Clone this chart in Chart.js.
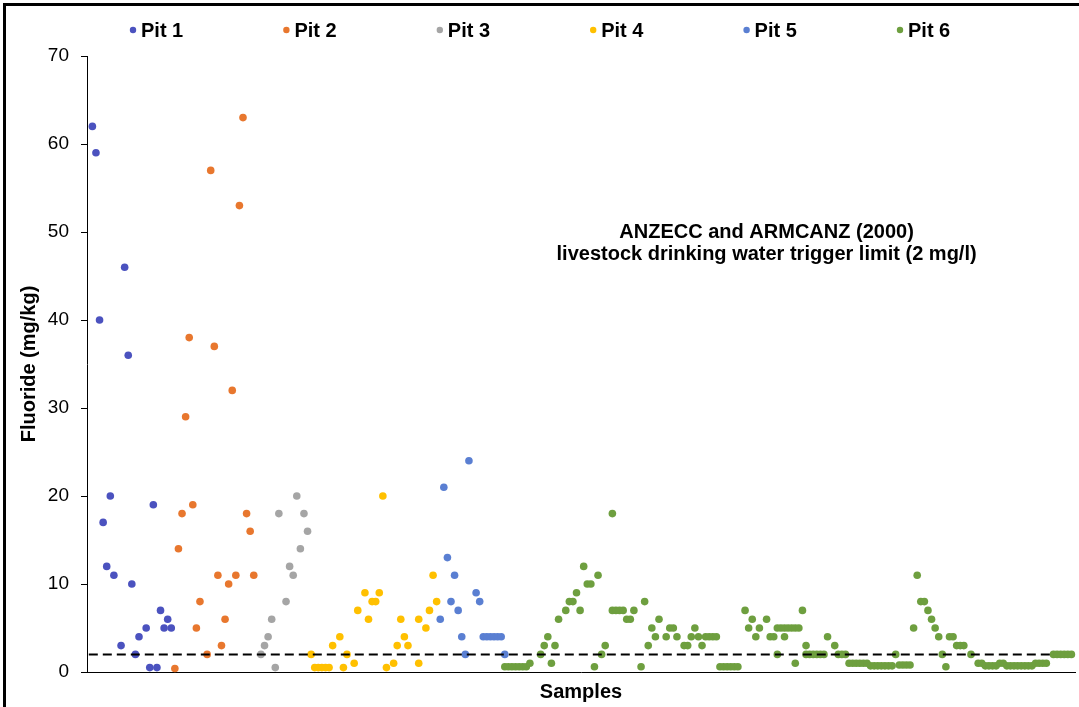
<!DOCTYPE html>
<html><head><meta charset="utf-8">
<script src="https://cdn.jsdelivr.net/npm/chart.js@4.4.1/dist/chart.umd.min.js"></script>
<style>html,body{margin:0;padding:0;background:#fff;} canvas{display:block;}</style>
</head><body>
<canvas id="c" width="1079" height="707"></canvas>
<script>
const seriesNames = ['Pit 1','Pit 2','Pit 3','Pit 4','Pit 5','Pit 6'];

const pit1Samples = [2,3,4,5,6,7,8,10,11,12,13,14,15,17,18,19,20,21,22,23,24];
const pit1Fluoride = [62,59,40,17,12,20,11,3,46,36,10,2,4,5,0.5,19,0.5,7,5,6,5];

const pit2Samples = [25,26,27,28,29,30,31,32,34,35,36,37,38,39,40,41,42,43,44,45,46,47];
const pit2Fluoride = [0.4,14,18,29,38,19,5,8,2,57,37,11,3,6,10,32,11,53,63,18,16,11];

const pit3Samples = [49,50,51,52,53,54,56,57,58,59,60,61,62];
const pit3Fluoride = [2,3,4,6,0.5,18,8,12,11,20,14,18,16];

const pit4Samples = [63,64,65,66,67,68,69,71,72,73,75,76,78,79,80,81,82,83,84,86,87,88,89,90,93,93,95,96,97,98];
const pit4Fluoride = [2,0.5,0.5,0.5,0.5,0.5,3,4,0.5,2,1,7,9,6,8,8,9,20,0.5,1,3,6,4,3,1,6,5,7,11,8];

const pit5Samples = [99,100,101,102,103,104,105,106,107,109,110,111,112,113,114,115,116,117];
const pit5Fluoride = [6,21,13,8,11,7,4,2,24,9,8,4,4,4,4,4,4,2];

const pit6Samples = [117,118,119,120,121,122,123,124,127,128,129,130,131,132,134,135,136,137,138,139,140,141,142,143,144,145,
  147,147,148,149,150,151,152,153,155,156,157,158,159,160,162,163,164,165,167,168,169,170,171,172,173,174,175,176,
  177,178,179,180,181,182,184,185,186,187,188,190,191,192,193,193,194,195,196,197,198,199,195,198,
  200,201,201,202,203,204,205,206,207,209,210,211,212,213,214,215,216,217,218,219,220,221,222,223,224,225,226,227,228,229,230,
  231,232,233,234,235,236,237,238,239,240,241,242,243,244,245,247,
  249,250,251,252,253,254,255,256,257,258,259,260,261,262,263,264,265,266,267,268,270,271,272,273,274,275];
const pit6Fluoride = [0.6,0.6,0.6,0.6,0.6,0.6,0.6,1,2,3,4,1,3,6,7,8,8,9,7,12,10,10,0.6,11,2,3,
  7,18,7,7,7,6,6,7,0.6,8,3,5,4,6,4,5,5,4,3,3,4,5,4,3,4,4,4,4,
  0.6,0.6,0.6,0.6,0.6,0.6,7,5,6,4,5,6,4,4,2,5,5,5,5,5,5,5,4,1,
  7,3,2,2,2,2,2,2,4,3,2,2,2,1,1,1,1,1,1,0.7,0.7,0.7,0.7,0.7,0.7,0.7,2,0.8,0.8,0.8,0.8,
  5,11,8,8,7,6,5,4,2,0.6,4,4,3,3,3,2,
  1,1,0.7,0.7,0.7,0.7,1,1,0.7,0.7,0.7,0.7,0.7,0.7,0.7,0.7,1,1,1,1,2,2,2,2,2,2];

const triggerLimit = 2;
const limitSamples = [1, 269];
const annotationLines = ['ANZECC and ARMCANZ (2000)', 'livestock drinking water trigger limit (2 mg/l)'];

const colors = ['#4b52bf','#e8772e','#a5a5a5','#ffc000','#5a7fd2','#6e9f3f'];
const FONT = '"Liberation Sans", Arial, sans-serif';

const sampleLists = [pit1Samples,pit2Samples,pit3Samples,pit4Samples,pit5Samples,pit6Samples];
const valueLists = [pit1Fluoride,pit2Fluoride,pit3Fluoride,pit4Fluoride,pit5Fluoride,pit6Fluoride];
const pts = (xs, ys) => xs.map((x, i) => ({x: x, y: ys[i]}));

const datasets = seriesNames.map((name, i) => ({
  label: name,
  data: pts(sampleLists[i], valueLists[i]),
  backgroundColor: colors[i],
  borderColor: colors[i],
  pointRadius: 3.8,
  pointBorderWidth: 0,
  showLine: false,
  clip: false,
  order: 10 - i
}));
datasets.push({
  type: 'line',
  label: 'limit',
  data: limitSamples.map(x => ({x: x, y: triggerLimit})),
  borderColor: '#000',
  borderWidth: 2,
  borderDash: [9, 5],
  pointRadius: 0,
  fill: false,
  order: 0
});

const frame = {
  id: 'frame',
  afterDraw(chart) {
    const ctx = chart.ctx;
    ctx.save();
    ctx.strokeStyle = '#000';
    ctx.lineWidth = 3;
    ctx.strokeRect(4.5, 4.5, 1200, 1200);
    ctx.restore();
  }
};

const legendPlugin = {
  id: 'customLegend',
  afterDraw(chart) {
    const ctx = chart.ctx;
    ctx.save();
    ctx.font = 'bold 20px ' + FONT;
    ctx.textBaseline = 'middle';
    ctx.textAlign = 'left';
    seriesNames.forEach((name, i) => {
      const cx = 133 + 153.4 * i;
      const cy = 30;
      ctx.fillStyle = colors[i];
      ctx.beginPath();
      ctx.arc(cx, cy, 3.2, 0, Math.PI * 2);
      ctx.fill();
      ctx.fillStyle = '#000';
      ctx.fillText(name, cx + 8, cy + 1);
    });
    ctx.restore();
  }
};

const notePlugin = {
  id: 'note',
  afterDraw(chart) {
    const ctx = chart.ctx;
    const xs = chart.scales.x, ys = chart.scales.y;
    ctx.save();
    ctx.font = 'bold 20px ' + FONT;
    ctx.fillStyle = '#000';
    ctx.textAlign = 'center';
    ctx.textBaseline = 'middle';
    const cx = xs.getPixelForValue(190);
    ctx.fillText(annotationLines[0], cx, ys.getPixelForValue(50));
    ctx.fillText(annotationLines[1], cx, ys.getPixelForValue(47.4));
    ctx.restore();
  }
};

new Chart(document.getElementById('c'), {
  type: 'scatter',
  data: { datasets: datasets },
  options: {
    responsive: false,
    animation: false,
    devicePixelRatio: 1,
    layout: { padding: { left: 13, right: 0, top: 56, bottom: 0 } },
    plugins: { legend: { display: false }, tooltip: { enabled: false } },
    scales: {
      x: {
        type: 'linear', min: 0.5, max: 276,
        grid: { display: false, drawTicks: false },
        border: { display: true, color: '#000', width: 1 },
        ticks: { display: false },
        title: { display: true, text: 'Samples', color: '#000', font: { family: FONT, size: 20, weight: 'bold' }, padding: { top: 4, bottom: 3 } },
        afterFit(s) { s.height = 35; }
      },
      y: {
        min: 0, max: 70,
        ticks: { stepSize: 10, color: '#000', font: { family: FONT, size: 19 }, padding: 12 },
        grid: { drawOnChartArea: false, drawTicks: true, tickLength: 6, color: '#000' },
        border: { display: true, color: '#000', width: 1 },
        title: { display: true, text: 'Fluoride (mg/kg)', color: '#000', font: { family: FONT, size: 20, weight: 'bold' }, padding: { top: 4, bottom: 4 } },
        afterFit(s) { s.width = 74; }
      }
    }
  },
  plugins: [frame, legendPlugin, notePlugin]
});
</script>
</body></html>
